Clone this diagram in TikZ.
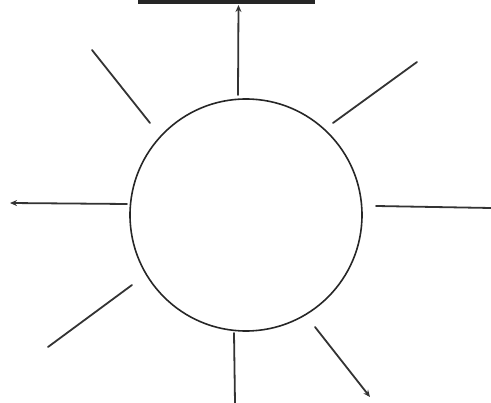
\documentclass[tikz,border=0pt]{standalone}
\usetikzlibrary{arrows.meta}
\begin{document}
\begin{tikzpicture}[x=1pt,y=-1pt,
  ray/.style={draw=black!80, line width=1.8pt, line cap=round},
  arr/.style={ray, -{Stealth[length=7pt,width=6pt]}},
  sun/.style={circle, draw=black!85, line width=1.6pt, minimum size=232pt, inner sep=0pt}]
\useasboundingbox (0,0) rectangle (491,403);
\node[sun] (c) at (246,215) {};
\node[fill=black!85, minimum width=177pt, minimum height=3.5pt, inner sep=0pt, anchor=north] (bar) at (226,0) {};
% ray ends
\coordinate (t0) at (238,95);
\coordinate (t1) at (238.5,5);
\coordinate (ul0) at (150,123);
\coordinate (ul1) at (92,50);
\coordinate (ur0) at (333,123);
\coordinate (ur1) at (417,62);
\coordinate (l0) at (127,204);
\coordinate (l1) at (10,203);
\coordinate (r0) at (376,206);
\coordinate (r1) at (491,208);
\coordinate (ll0) at (132,285);
\coordinate (ll1) at (48,347);
\coordinate (b0) at (234,333);
\coordinate (b1) at (235,403);
\coordinate (lr0) at (315,327);
\coordinate (lr1) at (370,397);
\draw[arr] (t0) -- (t1);
\draw[ray] (ul0) -- (ul1);
\draw[ray] (ur0) -- (ur1);
\draw[arr] (l0) -- (l1);
\draw[ray] (r0) -- (r1);
\draw[ray] (ll0) -- (ll1);
\draw[ray] (b0) -- (b1);
\draw[arr] (lr0) -- (lr1);
\end{tikzpicture}
\end{document}
